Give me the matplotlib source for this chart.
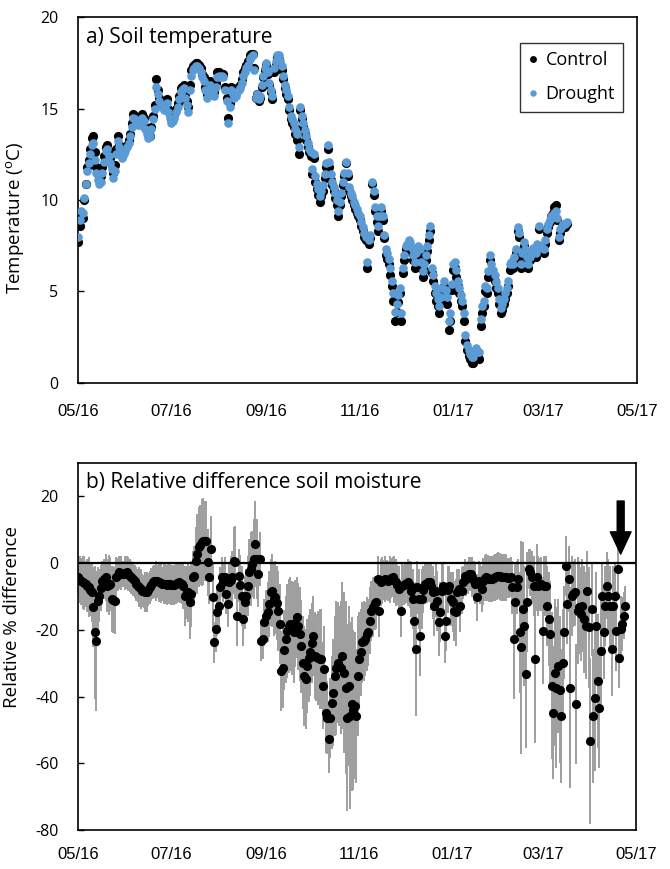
import matplotlib
matplotlib.use("Agg")
import matplotlib.pyplot as plt
import matplotlib.dates as mdates
import pandas as pd

START = "2016-05-01"
AXIS_END = "2017-05-01"

# daily mean soil temperature (deg C), from 1 May 2016
control_temp = [
    7.7, 8.6, 9.2, 9.0, 10.0, 10.9, 11.8, 12.2, 12.8, 13.4,
    13.5, 12.6, 11.8, 11.5, 11.2, 11.3, 11.8, 12.4, 12.9, 13.0,
    12.6, 12.3, 11.9, 11.5, 11.9, 12.8, 13.5, 13.0, 12.8, 12.5,
    12.7, 12.9, 13.0, 13.3, 13.6, 14.2, 14.7, 14.6, 14.5, 14.3,
    14.3, 14.4, 14.7, 14.5, 14.0, 13.8, 13.6, 13.5, 14.0, 14.6,
    15.2, 16.6, 16.0, 15.6, 15.4, 15.2, 15.1, 15.3, 15.5, 15.0,
    14.7, 14.4, 14.5, 14.7, 15.0, 15.3, 15.7, 16.1, 16.2, 16.3,
    15.8, 15.4, 15.1, 16.3, 17.1, 17.3, 17.4, 17.5, 17.5, 17.4,
    17.2, 16.9, 16.7, 16.2, 15.8, 16.1, 16.5, 16.3, 16.0, 15.9,
    16.4, 17.0, 17.0, 16.9, 16.9, 16.9, 16.2, 15.6, 14.5, 15.3,
    16.2, 16.0, 15.8, 15.9, 16.1, 16.2, 16.3, 16.6, 17.0, 17.2,
    17.4, 17.6, 17.9, 18.0, 18.0, 17.2, 15.6, 15.8, 15.4, 15.6,
    16.2, 16.7, 17.1, 17.4, 16.9, 16.3, 15.9, 15.5, 17.0, 17.4,
    17.8, 17.7, 17.4, 17.1, 16.6, 16.1, 15.8, 15.5, 14.9, 14.4,
    14.2, 14.0, 13.6, 13.3, 12.5, 14.9, 14.4, 14.0, 13.6, 13.3,
    12.9, 12.6, 12.4, 11.4, 12.3, 11.0, 10.6, 10.3, 9.9, 10.2,
    10.5, 11.2, 11.8, 12.8, 11.8, 11.1, 10.8, 10.5, 10.1, 9.7,
    9.1, 9.7, 10.2, 10.8, 11.3, 12.0, 11.3, 10.5, 10.2, 10.0,
    9.7, 9.5, 9.3, 9.1, 8.9, 8.6, 8.3, 8.0, 7.8, 6.3,
    7.6, 7.9, 10.9, 10.3, 9.4, 8.8, 8.3, 8.9, 9.4, 8.9,
    7.9, 7.0, 6.8, 6.5, 5.9, 5.3, 4.5, 3.4, 3.9, 4.4,
    4.9, 3.4, 6.0, 6.7, 7.3, 7.4, 7.6, 7.4, 7.1, 6.7,
    6.3, 6.8, 7.3, 7.0, 6.3, 5.8, 6.2, 6.7, 7.2, 7.8,
    8.3, 6.0, 5.6, 4.9, 4.5, 4.2, 3.8, 4.4, 4.9, 5.3,
    4.8, 4.3, 2.9, 3.4, 5.1, 6.2, 6.3, 5.8, 5.3, 4.9,
    4.5, 4.2, 3.4, 2.3, 1.8, 1.5, 1.3, 1.1, 1.1, 1.4,
    1.6, 1.4, 1.3, 3.1, 3.8, 4.2, 5.0, 4.9, 5.8, 6.7,
    6.2, 5.9, 5.6, 5.2, 4.9, 4.3, 3.8, 4.0, 4.3, 4.6,
    4.9, 5.3, 6.2, 6.3, 6.3, 6.7, 7.1, 8.3, 8.0, 6.3,
    6.9, 7.5, 7.1, 6.7, 6.3, 6.7, 7.0, 7.2, 7.0, 6.9,
    7.4, 8.4, 7.3, 7.2, 7.1, 7.6, 8.2, 8.5, 8.8, 9.1,
    9.3, 9.6, 9.7, 8.9, 7.8, 8.2, 8.5, 8.6, 8.5, 8.7,
]

drought_temp = [
    8.0, 8.9, 9.4, 9.3, 10.1, 10.9, 11.6, 12.0, 12.5, 13.0,
    13.1, 12.2, 11.5, 11.1, 10.9, 11.0, 11.5, 12.1, 12.7, 12.8,
    12.4, 12.0, 11.7, 11.2, 11.6, 12.5, 13.2, 12.9, 12.6, 12.3,
    12.5, 12.7, 12.9, 13.1, 13.5, 14.0, 14.5, 14.4, 14.3, 14.1,
    14.1, 14.2, 14.5, 14.3, 13.9, 13.6, 13.4, 13.5, 13.9, 14.4,
    15.0, 16.2, 15.8, 15.4, 15.2, 15.1, 14.9, 15.1, 15.3, 14.8,
    14.5, 14.2, 14.3, 14.5, 14.8, 15.1, 15.5, 15.9, 16.0, 16.1,
    15.6, 15.2, 14.8, 16.0, 16.8, 17.1, 17.2, 17.3, 17.3, 17.2,
    17.0, 16.7, 16.5, 16.0, 15.6, 15.9, 16.3, 16.2, 15.9, 15.7,
    16.2, 16.7, 16.8, 16.7, 16.8, 16.7, 16.0, 15.4, 14.2, 15.1,
    16.0, 15.8, 15.6, 15.7, 15.9, 16.0, 16.1, 16.4, 16.8, 17.0,
    17.2, 17.4, 17.7, 17.8, 17.9, 17.1, 15.6, 15.8, 15.5, 15.7,
    16.3, 16.8, 17.2, 17.5, 17.0, 16.4, 16.0, 15.7, 17.2, 17.6,
    17.9, 17.9, 17.6, 17.3, 16.8, 16.3, 16.0, 15.7, 15.1, 14.6,
    14.4, 14.2, 13.9, 13.6, 12.9, 15.1, 14.6, 14.2, 13.8, 13.5,
    13.1, 12.8, 12.6, 11.7, 12.5, 11.3, 10.9, 10.6, 10.2, 10.5,
    10.8, 11.4, 12.0, 13.0, 12.1, 11.4, 11.0, 10.7, 10.4, 10.0,
    9.4, 9.9, 10.4, 11.0, 11.5, 12.1, 11.5, 10.7, 10.4, 10.2,
    9.9, 9.7, 9.5, 9.3, 9.1, 8.8, 8.5, 8.2, 8.0, 6.6,
    7.8, 8.1, 11.0, 10.5, 9.6, 9.1, 8.6, 9.1, 9.6, 9.1,
    8.1, 7.3, 7.1, 6.8, 6.3, 5.6, 4.9, 3.9, 4.3, 4.8,
    5.2, 3.8, 6.3, 7.0, 7.5, 7.6, 7.8, 7.7, 7.4, 7.0,
    6.6, 7.1, 7.5, 7.3, 6.6, 6.1, 6.5, 7.0, 7.5, 8.1,
    8.6, 6.3, 5.9, 5.3, 4.9, 4.6, 4.2, 4.7, 5.2, 5.6,
    5.1, 4.7, 3.4, 3.8, 5.4, 6.5, 6.6, 6.2, 5.6, 5.2,
    4.8, 4.5, 3.8, 2.6, 2.1, 1.8, 1.6, 1.4, 1.4, 1.7,
    1.9, 1.7, 1.7, 3.5, 4.2, 4.5, 5.3, 5.2, 6.1, 7.0,
    6.5, 6.2, 5.9, 5.5, 5.2, 4.6, 4.1, 4.3, 4.6, 4.9,
    5.2, 5.6, 6.5, 6.6, 6.5, 6.9, 7.3, 8.5, 8.2, 6.5,
    7.1, 7.7, 7.3, 6.9, 6.5, 6.9, 7.2, 7.4, 7.2, 7.1,
    7.6, 8.6, 7.5, 7.4, 7.3, 7.8, 8.4, 8.7, 8.9, 9.1,
    9.2, 9.3, 9.4, 9.0, 8.0, 8.4, 8.6, 8.7, 8.7, 8.8,
]

# relative % difference in soil moisture (drought vs control) and its error
rel_diff = [
    -4.3, -5.0, -5.5, -5.8, -6.0, -6.3, -6.8, -7.3, -8.0, -8.8,
    -13.3, -20.8, -23.3, -11.3, -9.8, -7.5, -5.3, -4.8, -4.3, -6.8,
    -6.5, -6.3, -10.8, -11.0, -11.3, -4.3, -3.5, -2.8, -3.0, -3.3,
    -3.3, -3.0, -2.8, -3.3, -3.8, -4.3, -4.8, -5.5, -6.3, -6.8,
    -7.3, -7.8, -8.3, -8.5, -8.8, -8.8, -8.0, -7.3, -6.5, -5.8,
    -5.5, -5.3, -5.5, -5.8, -6.0, -6.3, -6.3, -6.3, -6.5, -6.3,
    -6.3, -6.5, -6.6, -6.5, -6.3, -6.0, -5.8, -6.0, -6.3, -6.8,
    -9.8, -8.8, -8.8, -11.8, -9.3, -4.3, -3.8, 0.7, 2.7, 4.7,
    5.5, 6.2, 6.5, 6.7, 6.7, 0.2, -4.3, 4.2, -10.3, -23.8,
    -19.8, -14.8, -12.8, -7.3, -4.3, -5.8, -4.3, -9.3, -12.3, -5.8,
    -5.0, -4.3, 0.7, 0.2, -15.8, -3.8, -6.5, -9.8, -16.8, -11.8,
    -9.8, -6.8, -2.8, -1.8, -0.3, 1.2, 5.7, 1.2, -3.3, 1.2,
    -23.3, -22.8, -17.8, -16.0, -14.8, -12.3, -8.8, -8.3, -10.8, -10.3,
    -12.0, -14.3, -18.3, -32.3, -31.3, -26.0, -22.8, -20.3, -18.8, -18.3,
    -19.5, -20.8, -18.0, -16.3, -19.0, -21.3, -25.0, -29.8, -33.8, -34.8,
    -30.8, -28.5, -26.8, -24.0, -21.8, -27.8, -28.2, -28.5, -28.8, -28.8,
    -36.8, -31.8, -44.8, -46.3, -52.8, -46.3, -41.8, -38.8, -33.8, -31.5,
    -29.8, -30.8, -31.3, -27.8, -32.8, -37.3, -46.3, -36.8, -45.8, -42.3,
    -44.0, -42.8, -45.8, -33.8, -28.8, -26.8, -23.8, -23.3, -22.8, -21.3,
    -20.8, -17.3, -14.3, -13.3, -12.0, -11.8, -4.8, -14.3, -5.8, -5.3,
    -5.0, -4.8, -5.0, -5.3, -5.0, -4.5, -4.3, -5.0, -5.8, -6.5,
    -7.8, -14.3, -6.8, -6.5, -6.3, -6.0, -5.8, -6.5, -8.3, -10.8,
    -17.3, -25.8, -7.3, -10.8, -21.8, -10.8, -8.0, -6.3, -6.0, -5.8,
    -5.8, -7.0, -8.8, -12.8, -8.3, -11.5, -17.8, -14.8, -8.3, -6.8,
    -21.8, -17.3, -8.0, -6.8, -10.8, -11.8, -14.3, -14.8, -8.8, -7.8,
    -12.8, -8.3, -5.8, -3.8, -4.8, -4.3, -3.3, -3.3, -4.3, -5.3,
    -6.3, -10.3, -5.3, -6.3, -7.8, -5.5, -4.5, -4.3, -4.5, -4.8,
    -4.8, -4.8, -4.5, -4.3, -4.0, -3.8, -4.0, -4.3, -4.3, -4.3,
    -4.3, -4.5, -4.6, -4.3, -7.3, -22.8, -11.8, -7.3, -4.8, -20.8,
    -25.3, -13.8, -18.8, -33.3, -11.8, -1.8, -2.8, -4.3, -6.8, -28.8,
    -4.3, -6.8, -6.5, -6.3, -20.3, -6.8, -6.8, -12.8, -16.8, -21.3,
    -36.8, -44.8, -32.8, -37.3, -30.8, -38.0, -45.8, -29.8, -20.8, -0.8,
    -12.3, -4.8, -37.3, -9.8, -9.3, -8.8, -42.3, -14.3, -13.3, -15.3,
    -12.8, -16.8, -18.8, -8.3, -19.3, -53.3, -13.8, -45.8, -40.3, -18.8,
    -35.3, -43.3, -26.3, -9.8, -20.8, -12.8, -6.8, -9.8, -12.8, -25.8,
    -12.8, -9.8, -20.3, -1.8, -28.3, -19.8, -18.3, -15.8, -12.8,
]

rel_err = [
    6, 7, 7, 8, 8, 7, 8, 9, 8, 9,
    12, 20, 21, 10, 8, 7, 6, 6, 7, 8,
    9, 8, 10, 10, 10, 6, 5, 5, 5, 4,
    4, 5, 5, 5, 5, 5, 5, 5, 5, 5,
    6, 6, 5, 5, 6, 6, 5, 5, 5, 5,
    5, 6, 5, 6, 6, 5, 6, 6, 6, 6,
    6, 6, 6, 6, 6, 6, 6, 6, 6, 7,
    9, 8, 9, 11, 10, 8, 9, 10, 12, 12,
    12, 13, 13, 12, 12, 10, 8, 10, 10, 6,
    7, 7, 7, 6, 6, 6, 6, 6, 7, 6,
    7, 8, 10, 11, 9, 8, 9, 9, 8, 8,
    8, 9, 10, 11, 10, 12, 13, 12, 10, 8,
    6, 6, 7, 8, 9, 10, 10, 11, 11, 11,
    11, 12, 12, 12, 12, 12, 13, 14, 14, 14,
    14, 15, 13, 12, 13, 14, 14, 14, 15, 15,
    14, 13, 13, 12, 12, 13, 13, 14, 15, 15,
    13, 13, 12, 11, 10, 12, 14, 16, 18, 20,
    18, 18, 20, 22, 24, 26, 28, 24, 28, 26,
    24, 22, 20, 18, 14, 13, 12, 12, 11, 11,
    10, 10, 9, 9, 8, 8, 7, 8, 7, 7,
    6, 7, 6, 6, 7, 6, 6, 7, 7, 6,
    7, 8, 7, 6, 6, 6, 7, 7, 8, 9,
    10, 20, 8, 9, 12, 9, 7, 6, 6, 6,
    6, 7, 8, 9, 8, 9, 10, 9, 8, 7,
    8, 9, 7, 6, 8, 9, 9, 10, 7, 6,
    8, 7, 5, 5, 5, 5, 5, 5, 6, 6,
    6, 7, 6, 6, 7, 7, 7, 7, 7, 7,
    7, 7, 7, 7, 7, 7, 7, 7, 7, 7,
    7, 6, 6, 6, 8, 18, 12, 8, 6, 18,
    32, 20, 18, 22, 15, 6, 7, 8, 9, 25,
    10, 9, 8, 8, 16, 9, 9, 12, 14, 16,
    22, 20, 22, 24, 20, 22, 20, 16, 14, 9,
    12, 10, 30, 12, 10, 10, 18, 16, 14, 14,
    14, 16, 16, 12, 18, 25, 14, 20, 22, 16,
    20, 18, 16, 10, 14, 12, 10, 11, 12, 14,
    12, 10, 12, 8, 9, 10, 8, 7, 6,
]

arrow_day = 355
arrow_top, arrow_tip = 18.6, 2.7

LABEL_FONT = ["Open Sans", "DejaVu Sans"]
DATE_FONT = ["Liberation Sans", "DejaVu Sans"]

plt.rcParams["font.family"] = LABEL_FONT
plt.rcParams["axes.unicode_minus"] = False
plt.rcParams["mathtext.fontset"] = "custom"
plt.rcParams["mathtext.rm"] = "Open Sans"


def style_axis(ax, ylim, yticks, date_pad):
    ax.set_xlim(pd.Timestamp(START), pd.Timestamp(AXIS_END))
    ax.xaxis.set_major_locator(mdates.MonthLocator(bymonth=[1, 3, 5, 7, 9, 11]))
    ax.xaxis.set_major_formatter(mdates.DateFormatter("%m/%y"))
    ax.set_ylim(*ylim)
    ax.set_yticks(yticks)
    ax.tick_params(axis="x", length=0, pad=date_pad)
    ax.tick_params(axis="y", direction="in", length=4.5, width=1, pad=14,
                   labelsize=11.5)
    for label in ax.get_xticklabels():
        label.set_fontfamily(DATE_FONT)
        label.set_fontsize(12)
    for spine in ax.spines.values():
        spine.set_linewidth(1.2)
        spine.set_color("black")


fig = plt.figure(figsize=(6.7, 8.69), dpi=100)
ax1 = fig.add_axes([0.1164, 0.5593, 0.8343, 0.4211])
ax2 = fig.add_axes([0.1164, 0.0449, 0.8328, 0.4223])

temp_dates = pd.date_range(START, periods=len(control_temp), freq="D")
drought_dates = pd.date_range(START, periods=len(drought_temp), freq="D")
diff_dates = pd.date_range(START, periods=len(rel_diff), freq="D")

ax1.plot(temp_dates, control_temp, "o", ls="none", color="black", ms=6.6,
         mew=0, label="Control", zorder=3)
ax1.plot(drought_dates, drought_temp, "o", ls="none", color="#5b9bd5", ms=6.2,
         mew=0, label="Drought", zorder=4)
style_axis(ax1, (0, 20), [0, 5, 10, 15, 20], 15)
ax1.set_ylabel(r"Temperature ($\mathregular{^{o}}$C)", fontsize=13.5)
ax1.yaxis.set_label_coords(-0.093, 0.45)
ax1.text(0.015, 0.972, "a) Soil temperature", transform=ax1.transAxes,
         ha="left", va="top", fontsize=15)
leg = ax1.legend(loc="upper right", bbox_to_anchor=(0.975, 0.929),
                 borderaxespad=0, frameon=True, fancybox=False,
                 edgecolor="black", fontsize=13, markerscale=0.75,
                 handlelength=0.5, handletextpad=0.45, labelspacing=0.9,
                 borderpad=0.45)
leg.get_frame().set_linewidth(1.0)

ax2.errorbar(diff_dates, rel_diff, yerr=rel_err, fmt="none", ecolor="#9e9e9e",
             elinewidth=1.4, capsize=0, zorder=2)
ax2.axhline(0, color="black", lw=1.6, zorder=3)
ax2.plot(diff_dates, rel_diff, "o", ls="none", color="black", ms=6.6, mew=0,
         zorder=4)
style_axis(ax2, (-80, 30), [-80, -60, -40, -20, 0, 20], 12)
ax2.set_ylabel("Relative % difference", fontsize=13.5)
ax2.yaxis.set_label_coords(-0.103, 0.58)
ax2.text(0.015, 0.975, "b) Relative difference soil moisture",
         transform=ax2.transAxes, ha="left", va="top", fontsize=15)

arrow_x = pd.Timestamp(START) + pd.Timedelta(days=arrow_day)
ax2.annotate("", xy=(arrow_x, arrow_tip), xytext=(arrow_x, arrow_top),
             arrowprops=dict(arrowstyle="simple,head_width=0.75,"
                             "head_length=0.8,tail_width=0.25",
                             mutation_scale=20, color="black",
                             shrinkA=0, shrinkB=0),
             zorder=5)

fig.savefig("out.png", dpi=100, facecolor="white")
